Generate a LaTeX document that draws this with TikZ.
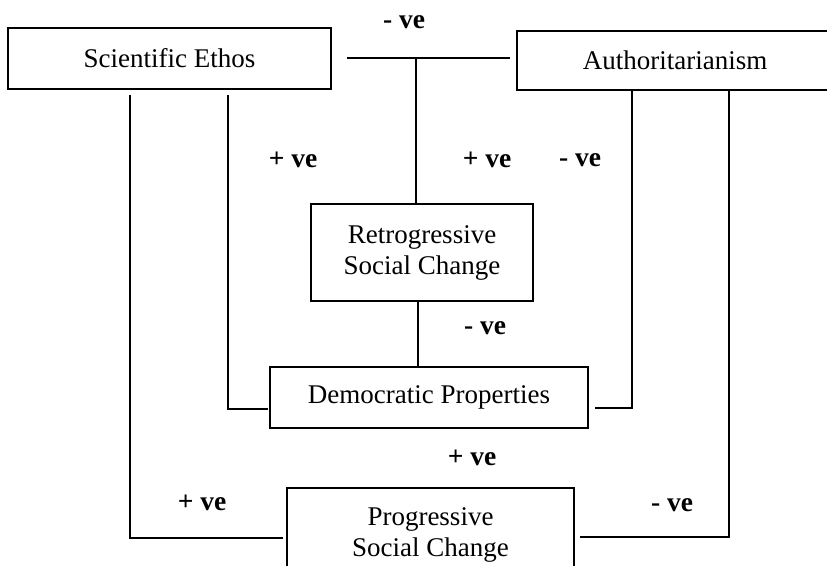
\documentclass[tikz,border=0pt]{standalone}
\usepackage{fontspec}
\setmainfont{Liberation Serif}
\begin{document}
\begin{tikzpicture}[x=1pt,y=-1pt,
  box/.style={draw,line width=1.6pt,rectangle,align=center,inner sep=0pt,
    font=\fontsize{27}{31}\selectfont},
  lbl/.style={font=\bfseries\fontsize{27.5}{30}\selectfont,inner sep=0pt},
  conn/.style={line width=1.6pt}]
\useasboundingbox (0,0) rectangle (827,565);
\node[box,minimum width=323pt,minimum height=61pt] (sci) at (169.5,58.5) {Scientific Ethos};
\node[box,minimum width=316pt,minimum height=59pt] (auth) at (675,60.5) {Authoritarianism};
\node[box,minimum width=222pt,minimum height=97pt] (retro) at (422,252.5) {Retrogressive\\Social Change};
\node[box,minimum width=318pt,minimum height=61pt] (dem) at (429,397.5) {Democratic Properties};
\node[box,minimum width=287pt,minimum height=94pt] (prog) at (430.5,535) {Progressive\\Social Change};

% top link
\coordinate (tl) at (347,58);
\coordinate (tr) at (510,58);
\coordinate (tm) at (416,58);
\draw[conn] (tl) -- (tr);
\draw[conn] (tm) -- (tm |- retro.north);
% retro to dem
\draw[conn] (418,0 |- retro.south) -- (418,0 |- dem.north);
% sci inner
\coordinate (si) at (228,95);
\coordinate (dl) at (268,409);
\draw[conn] (si) |- (dl);
% sci outer
\coordinate (so) at (130,95);
\coordinate (pl) at (283,538);
\draw[conn] (so) |- (pl);
% auth inner
\coordinate (ai) at (632,90);
\coordinate (dr) at (595,408);
\draw[conn] (ai) |- (dr);
% auth outer
\coordinate (ao) at (729,90);
\coordinate (pr) at (580,537);
\draw[conn] (ao) |- (pr);

\node[lbl] (l1) at (404,22) {- ve};
\node[lbl] (l2) at (293,160) {+ ve};
\node[lbl] (l3) at (487,160) {+ ve};
\node[lbl] (l4) at (580,160) {- ve};
\node[lbl] (l5) at (485,328) {- ve};
\node[lbl] (l6) at (472,458) {+ ve};
\node[lbl] (l7) at (202,503) {+ ve};
\node[lbl] (l8) at (672,505) {- ve};
\end{tikzpicture}
\end{document}
